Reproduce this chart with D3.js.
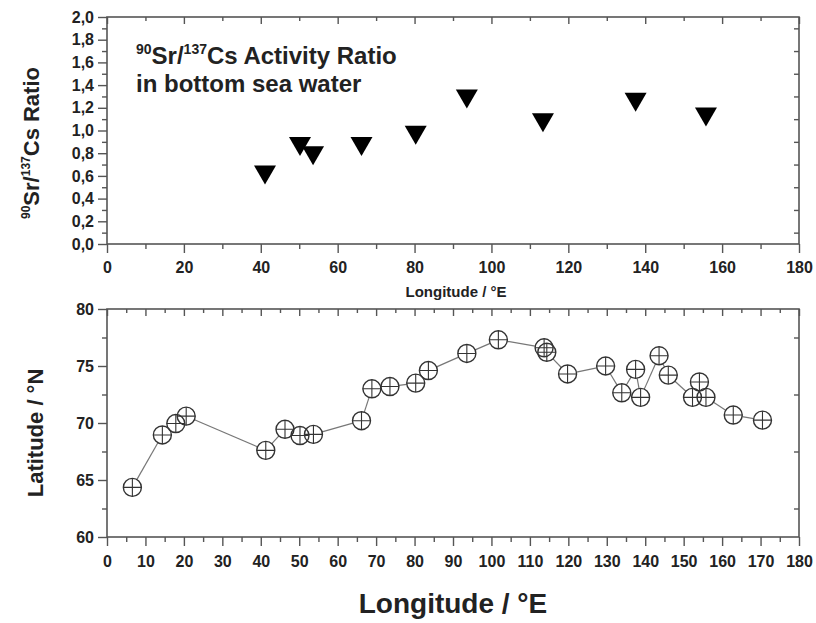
<!DOCTYPE html>
<html><head><meta charset="utf-8">
<script src="https://cdn.jsdelivr.net/npm/d3@7"></script>
<style>body{margin:0;background:#fff}svg{display:block}text{font-family:"Liberation Sans",Arial,sans-serif;font-weight:bold;fill:#222}</style>
</head><body><svg id="c" width="816" height="623"></svg>
<script>
// Top panel: 90Sr/137Cs activity ratio vs longitude
const ratioLon = [41.1, 50.2, 53.6, 66.2, 80.3, 93.6, 113.4, 137.5, 155.8];
const ratioVal = [0.63, 0.88, 0.80, 0.88, 0.98, 1.30, 1.09, 1.27, 1.14];
// Bottom panel: station positions
const stLon = [6.6, 14.4, 17.9, 20.6, 41.3, 46.3, 50.2, 53.7, 66.2, 68.9, 73.6, 80.3, 83.6, 93.6, 101.8, 113.7, 114.4, 119.8, 129.7, 133.9, 137.5, 138.8, 143.6, 146.0, 152.3, 154.1, 155.8, 162.9, 170.5];
const stLat = [64.35, 68.95, 69.95, 70.6, 67.6, 69.45, 68.9, 69.0, 70.2, 73.0, 73.2, 73.5, 74.6, 76.1, 77.3, 76.6, 76.2, 74.3, 75.0, 72.65, 74.7, 72.25, 75.9, 74.2, 72.25, 73.6, 72.25, 70.7, 70.25];
const topXTicks = [0,20,40,60,80,100,120,140,160,180];
const topYTicks = [0,0.2,0.4,0.6,0.8,1.0,1.2,1.4,1.6,1.8,2.0];
const botXTicks = d3.range(0,181,10);
const botYTicks = [60,65,70,75,80];

const svg = d3.select("#c");
const L = 107, R = 799;
const frameCol = "#555";

function panel(g, x, y, xMajor, xMinor, yMajor, yMinor, yFmt, fs, xPad) {
  const [y0, y1] = y.range();
  g.append("g").attr("transform", `translate(0,${y0})`)
    .call(d3.axisBottom(x).tickValues(xMinor).tickSize(5).tickFormat(""));
  g.append("g").attr("transform", `translate(0,${y0})`)
    .call(d3.axisBottom(x).tickValues(xMajor).tickSize(9).tickPadding(xPad).tickFormat(d3.format("d")))
    .selectAll("text").style("font-size", fs + "px");
  g.append("g").attr("transform", `translate(0,${y1})`)
    .call(d3.axisBottom(x).tickValues(xMinor).tickSize(4).tickFormat(""));
  g.append("g").attr("transform", `translate(0,${y1})`)
    .call(d3.axisBottom(x).tickValues(xMajor).tickSize(7).tickFormat(""));
  g.append("g").attr("transform", `translate(${L},0)`)
    .call(d3.axisLeft(y).tickValues(yMinor).tickSize(5).tickFormat(""));
  g.append("g").attr("transform", `translate(${L},0)`)
    .call(d3.axisLeft(y).tickValues(yMajor).tickSize(9).tickPadding(4).tickFormat(yFmt))
    .selectAll("text").style("font-size", fs + "px");
  g.append("g").attr("transform", `translate(${R},0)`)
    .call(d3.axisLeft(y).tickValues(yMinor).tickSize(5).tickFormat(""));
  g.selectAll(".domain").remove();
  g.selectAll(".tick line").attr("stroke", frameCol).attr("stroke-width", 1.4);
  g.append("rect").attr("x", L).attr("y", y1).attr("width", R - L).attr("height", y0 - y1)
    .attr("fill", "none").attr("stroke", frameCol).attr("stroke-width", 1.6);
}

// ---------- TOP PANEL ----------
const xT = d3.scaleLinear().domain([0,180]).range([L,R]);
const yT = d3.scaleLinear().domain([0,2]).range([244,17]);
const gT = svg.append("g");
panel(gT, xT, yT, topXTicks, d3.range(10,180,20), topYTicks, d3.range(0.1,2.0,0.2),
  d => d3.format(".1f")(d).replace(".", ","), 16, 9);

gT.selectAll("path.tri").data(ratioLon).join("path")
  .attr("class", "tri")
  .attr("transform", (d,i) => `translate(${xT(d)},${yT(ratioVal[i])})`)
  .attr("d", "M-11,-7L11,-7L0,12Z").attr("fill", "#000");

const title = svg.append("text").attr("x", 136).attr("y", 64).style("font-size", "24px");
title.append("tspan").text("90").attr("dy", -10).style("font-size", "14px");
title.append("tspan").text("Sr/").attr("dy", 10);
title.append("tspan").text("137").attr("dy", -10).style("font-size", "14px");
title.append("tspan").text("Cs Activity Ratio").attr("dy", 10);
svg.append("text").attr("x", 136).attr("y", 92).style("font-size", "24px").text("in bottom sea water");

const yl = svg.append("text").attr("transform", "translate(39,143) rotate(-90)")
  .attr("text-anchor", "middle").style("font-size", "22px");
yl.append("tspan").text("90").attr("dy", -9).style("font-size", "12px");
yl.append("tspan").text("Sr/").attr("dy", 9);
yl.append("tspan").text("137").attr("dy", -9).style("font-size", "12px");
yl.append("tspan").text("Cs Ratio").attr("dy", 9);

svg.append("text").attr("x", 456).attr("y", 297).attr("text-anchor", "middle")
  .style("font-size", "15px").text("Longitude / °E");

// ---------- BOTTOM PANEL ----------
const xB = d3.scaleLinear().domain([0,180]).range([L,R]);
const yB = d3.scaleLinear().domain([60,80]).range([537,309]);
const gB = svg.append("g");
panel(gB, xB, yB, botXTicks, d3.range(5,180,10), botYTicks, [62.5,67.5,72.5,77.5],
  d3.format("d"), 16, 10);

const r = 9;
const segs = [];
for (let i = 0; i < stLon.length - 1; i++) {
  const ax = xB(stLon[i]), ay = yB(stLat[i]), bx = xB(stLon[i+1]), by = yB(stLat[i+1]);
  const dx = bx - ax, dy = by - ay, len = Math.hypot(dx, dy);
  if (len > 2 * r + 1) {
    const ux = dx / len, uy = dy / len;
    segs.push([ax + ux * r, ay + uy * r, bx - ux * r, by - uy * r]);
  }
}
gB.selectAll("line.seg").data(segs).join("line").attr("class", "seg")
  .attr("x1", d => d[0]).attr("y1", d => d[1]).attr("x2", d => d[2]).attr("y2", d => d[3])
  .attr("stroke", "#777").attr("stroke-width", 1.2);

const mk = gB.selectAll("g.mk").data(stLon).join("g").attr("class", "mk")
  .attr("transform", (d,i) => `translate(${xB(d)},${yB(stLat[i])})`);
mk.append("circle").attr("r", r).attr("fill", "none").attr("stroke", "#333").attr("stroke-width", 1.4);
mk.append("path").attr("d", `M${-r},0H${r}M0,${-r}V${r}`).attr("stroke", "#333").attr("stroke-width", 1.1);

svg.append("text").attr("transform", "translate(43,433) rotate(-90)")
  .attr("text-anchor", "middle").style("font-size", "22px").text("Latitude / °N");
svg.append("text").attr("x", 453).attr("y", 613).attr("text-anchor", "middle")
  .style("font-size", "28px").text("Longitude / °E");
</script></body></html>
